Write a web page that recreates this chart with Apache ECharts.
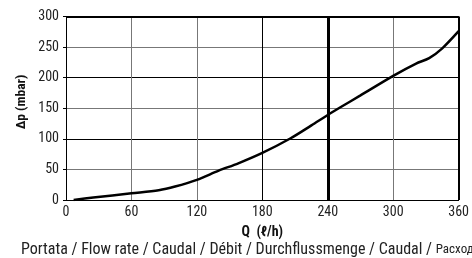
<!DOCTYPE html>
<html><head><meta charset="utf-8">
<script src="https://cdn.jsdelivr.net/npm/echarts@6/dist/echarts.min.js"></script>
<style>html,body{margin:0;padding:0;background:#fff}#c{width:472px;height:258px}</style>
</head><body><div id="c"></div>
<script>
// Data
const flowQ = [7, 25, 60, 85, 100, 120, 140, 158, 180, 206, 225, 240, 252, 270, 300, 321, 333, 345, 360];
const deltaP = [0, 4, 11, 16, 22, 33, 48, 60, 77, 101, 122, 139, 152, 171, 203, 223, 232, 248, 276];
const xTicks = [0, 60, 120, 180, 240, 300, 360];
const yTicks = [0, 50, 100, 150, 200, 250, 300];
const markQ = [240];
const xName = 'Q  (ℓ/h)';
const yName = 'Δp (mbar)';
const captionLatin = 'Portata / Flow rate / Caudal / Débit / Durchflussmenge / Caudal / ';
const captionCyr = 'Расход';

const FONT = '"Roboto Condensed", "DejaVu Sans Condensed", "Liberation Sans Narrow", sans-serif';
const chart = echarts.init(document.getElementById('c'), null, {renderer: 'canvas'});
chart.setOption({
  animation: false,
  grid: {left: 66, right: 9, top: 16.5, bottom: 58},
  xAxis: {
    type: 'value', min: xTicks[0], max: xTicks[xTicks.length-1], interval: 60,
    name: xName, nameLocation: 'middle', nameGap: 25,
    nameTextStyle: {fontFamily: FONT, fontWeight: 'bold', fontSize: 14, color: '#111'},
    axisLine: {show: true, lineStyle: {color: '#000', width: 1}},
    axisTick: {show: false},
    axisLabel: {fontFamily: FONT, fontSize: 14, color: '#222', margin: 5},
    splitLine: {show: true, lineStyle: {color: ['#000', '#777', '#777', '#000', '#000', '#777', '#000'], width: 1}}
  },
  yAxis: {
    type: 'value', min: yTicks[0], max: yTicks[yTicks.length-1], interval: 50,
    axisLine: {show: true, lineStyle: {color: '#000', width: 1}},
    axisTick: {show: true, length: 3, lineStyle: {color: '#000'}},
    axisLabel: {fontFamily: FONT, fontSize: 14, color: '#222', margin: 7},
    splitLine: {show: true, lineStyle: {color: ['#000', '#777'], width: 1}}
  },
  graphic: [{
    type: 'text', x: 22, y: 102, rotation: Math.PI / 2,
    style: {text: yName, fontFamily: FONT, fontWeight: 'bold', fontSize: 13.5, fill: '#111',
            align: 'center', verticalAlign: 'middle'}
  }, {
    type: 'text', left: 21, top: 242,
    style: {
      text: '{a|' + captionLatin + '}{b|' + captionCyr + '}',
      rich: {
        a: {fontFamily: FONT, fontSize: 16, fill: '#222', color: '#222'},
        b: {fontFamily: FONT, fontSize: 13, fill: '#222', color: '#222'}
      }
    }
  }],
  series: [{
    type: 'line', data: flowQ.map((q, i) => [q, deltaP[i]]),
    smooth: 0.3, showSymbol: false,
    lineStyle: {color: '#000', width: 2.5},
    markLine: {
      silent: true, symbol: 'none', label: {show: false},
      data: [
        {xAxis: markQ[0], lineStyle: {color: '#000', width: 3, type: 'solid'}},
        {xAxis: xTicks[xTicks.length-1], lineStyle: {color: '#000', width: 2, type: 'solid'}},
        {yAxis: yTicks[yTicks.length-1], lineStyle: {color: '#000', width: 2, type: 'solid'}}
      ]
    }
  }]
});
</script></body></html>
